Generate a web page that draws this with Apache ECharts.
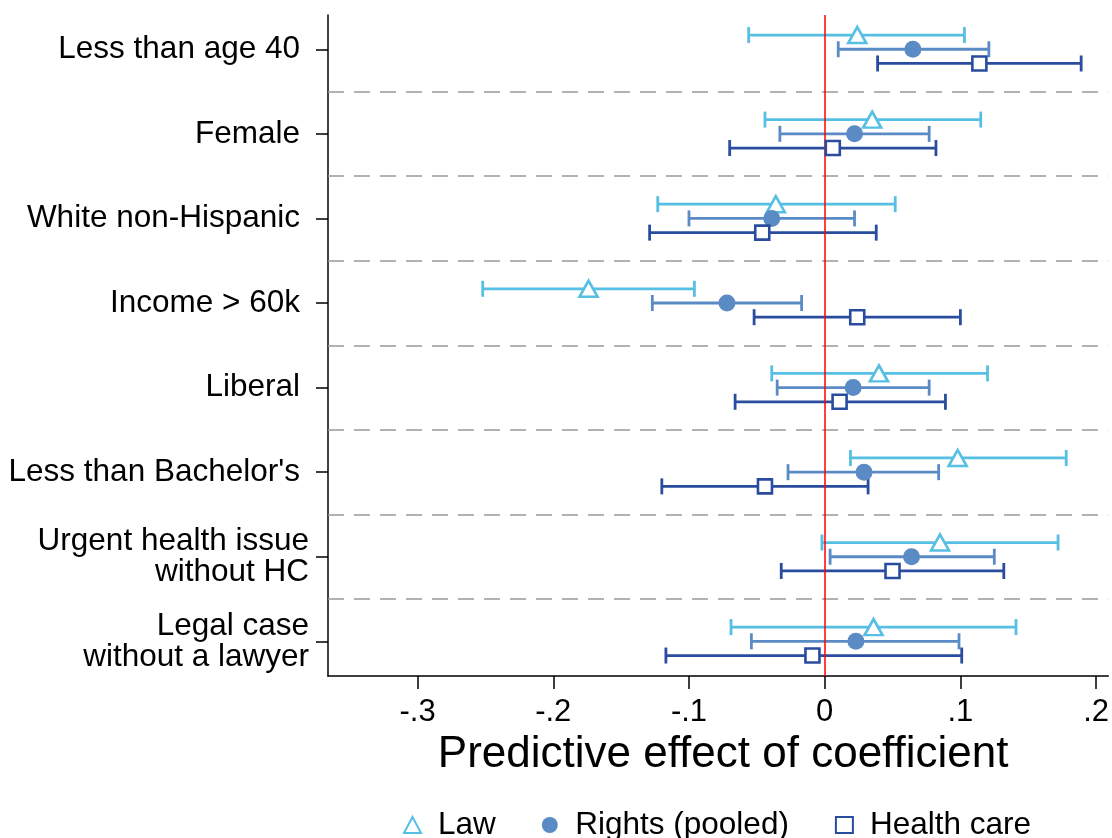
<!DOCTYPE html>
<html>
<head>
<meta charset="utf-8">
<script src="https://cdn.jsdelivr.net/npm/echarts@6/dist/echarts.min.js"></script>
<style>
html,body{margin:0;padding:0;background:#fff;}
#chart{width:1112px;height:838px;}
</style>
</head>
<body>
<div id="chart"></div>
<script>
var categories = ["Less than age 40","Female","White non-Hispanic","Income > 60k","Liberal","Less than Bachelor's","Urgent health issue\nwithout HC","Legal case\nwithout a lawyer"];
var xTicks = [-0.3,-0.2,-0.1,0,0.1,0.2];

var lawEst = [0.024,0.035,-0.036,-0.174,0.040,0.098,0.085,0.036];
var lawLo  = [-0.056,-0.044,-0.123,-0.252,-0.039,0.019,-0.002,-0.069];
var lawHi  = [0.103,0.115,0.052,-0.096,0.120,0.178,0.172,0.141];

var rightsEst = [0.065,0.022,-0.039,-0.072,0.021,0.029,0.064,0.023];
var rightsLo  = [0.010,-0.033,-0.100,-0.127,-0.035,-0.027,0.004,-0.054];
var rightsHi  = [0.121,0.077,0.022,-0.017,0.077,0.084,0.125,0.099];

var healthEst = [0.114,0.006,-0.046,0.024,0.011,-0.044,0.050,-0.009];
var healthLo  = [0.039,-0.070,-0.129,-0.052,-0.066,-0.120,-0.032,-0.117];
var healthHi  = [0.189,0.082,0.038,0.100,0.089,0.032,0.132,0.101];

var FONT = '"Liberation Sans", Arial, sans-serif';
var groups = [
  {name:'Law', est:lawEst, lo:lawLo, hi:lawHi, color:'#57BFE3', off:-0.168, symbol:'triangle', size:[18,16], fill:'#ffffff'},
  {name:'Rights (pooled)', est:rightsEst, lo:rightsLo, hi:rightsHi, color:'#5B8BC5', off:0, symbol:'circle', size:17, fill:'#5B8BC5'},
  {name:'Health care', est:healthEst, lo:healthLo, hi:healthHi, color:'#2A4C9E', off:0.168, symbol:'rect', size:14, fill:'#ffffff'}
];

var series = [];
groups.forEach(function(g){
  var data = g.lo.map(function(lo,i){ return [lo, g.hi[i], i]; });
  series.push({
    type:'custom', name:g.name+' CI', silent:true, z:2,
    renderItem:function(params, api){
      var y = api.value(2) + g.off;
      var p1 = api.coord([api.value(0), y]);
      var p2 = api.coord([api.value(1), y]);
      var h = 8;
      var st = {stroke:g.color, lineWidth:2.8, fill:null};
      return {type:'group', children:[
        {type:'line', shape:{x1:p1[0],y1:p1[1],x2:p2[0],y2:p2[1]}, style:st},
        {type:'line', shape:{x1:p1[0],y1:p1[1]-h,x2:p1[0],y2:p1[1]+h}, style:st},
        {type:'line', shape:{x1:p2[0],y1:p2[1]-h,x2:p2[0],y2:p2[1]+h}, style:st}
      ]};
    },
    encode:{x:[0,1], y:2},
    data:data
  });
});
groups.forEach(function(g){
  series.push({
    type:'scatter', name:g.name, z:5,
    symbol:g.symbol, symbolSize:g.size,
    itemStyle:{color:g.fill, borderColor:g.color, borderWidth: g.symbol==='circle'?0:2.6, opacity:1},
    data:g.est.map(function(v,i){ return [v, i + g.off]; })
  });
});
// reference lines
var sepLines = [];
for (var k=0;k<categories.length-1;k++){ sepLines.push({yAxis:k+0.5}); }
series.push({
  type:'line', name:'ref', data:[], silent:true,
  markLine:{silent:true, symbol:'none', label:{show:false}, animation:false,
    lineStyle:{color:'#999999', width:1.6, type:[16,10]},
    data:sepLines},
  z:1
});
series.push({
  type:'line', name:'zero', data:[], silent:true,
  markLine:{silent:true, symbol:'none', label:{show:false}, animation:false,
    lineStyle:{color:'#FF0000', width:1.5, type:'solid'},
    data:[{xAxis:0}]},
  z:3
});

var chart = echarts.init(document.getElementById('chart'), null, {renderer:'canvas'});
chart.setOption({
  animation:false,
  backgroundColor:'#ffffff',
  grid:{left:328, right:2, top:15, bottom:162, containLabel:false},
  xAxis:{
    type:'value', min:-0.366, max:0.209,
    name:'Predictive effect of coefficient', nameLocation:'middle', nameGap:50,
    nameTextStyle:{fontFamily:FONT, fontSize:44, color:'#000', padding:[0,0,0,10]},
    axisLine:{show:true, onZero:false, lineStyle:{color:'#000', width:1.5}},
    axisTick:{show:true, length:13, customValues:xTicks, lineStyle:{color:'#000', width:1.5}},
    axisLabel:{customValues:xTicks, margin:21, fontFamily:FONT, fontSize:31, color:'#000',
      formatter:function(v){ if (Math.abs(v)<1e-9) return '0'; var s=Math.abs(v).toFixed(1).replace(/^0/,''); return (v<0?'-':'')+s; }},
    splitLine:{show:false}
  },
  yAxis:{
    type:'value', min:-0.405, max:7.41, inverse:true,
    axisLine:{show:true, onZero:false, lineStyle:{color:'#000', width:1.5}},
    axisTick:{show:true, length:12, customValues:[0,1,2,3,4,5,6,7], lineStyle:{color:'#000', width:1.5}},
    axisLabel:{customValues:[0,1,2,3,4,5,6,7], margin:19, fontFamily:FONT, fontSize:31.5, lineHeight:31, color:'#000',
      formatter:function(v){
        var t = categories[Math.round(v)];
        if (t.indexOf('\n') >= 0) {
          return t.split('\n').map(function(s){ return '{m|' + s + '}'; }).join('\n');
        }
        return '{s|' + t + '}';
      },
      rich:{
        s:{fontFamily:FONT, fontSize:31.5, color:'#000', padding:[0,9,0,0]},
        m:{fontFamily:FONT, fontSize:31.5, lineHeight:31, color:'#000'}
      }
    },
    splitLine:{show:false}
  },
  legend:{
    data:['Law','Rights (pooled)','Health care'],
    top:804, left:398,
    itemWidth:17, itemHeight:16, itemGap:46,
    textStyle:{fontFamily:FONT, fontSize:31.5, color:'#000', padding:[0,0,0,12]}
  },
  series:series
});
</script>
</body>
</html>
